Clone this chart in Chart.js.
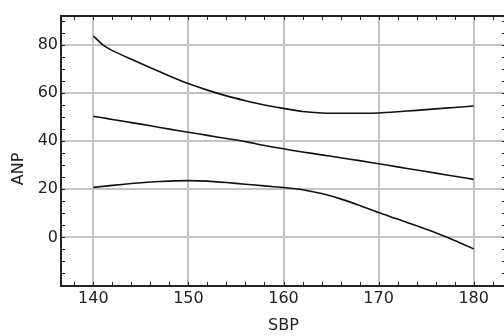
<!DOCTYPE html>
<html>
<head>
<meta charset="utf-8">
<script src="https://cdn.jsdelivr.net/npm/chart.js@4.4.0/dist/chart.umd.min.js"></script>
<style>
  html, body { margin: 0; padding: 0; background: #fff; overflow: hidden; }
  #wrap { width: 512px; height: 336px; }
</style>
</head>
<body>
<div id="wrap"><canvas id="anpChart" width="512" height="336"></canvas></div>
<script>
// SBP-Werte (x) und die drei Kurven: Regression + Konfidenzband
const sbp = [140, 141, 142, 144, 146, 148, 150, 152, 154, 156, 158, 160, 162, 164, 166, 168, 170, 172, 174, 176, 178, 180];
const obereGrenze = [83.7, 80.0, 77.6, 74.0, 70.5, 67.1, 63.9, 61.2, 58.8, 56.8, 55.0, 53.6, 52.3, 51.7, 51.6, 51.6, 51.7, 52.2, 52.8, 53.4, 54.0, 54.6];
const regression = [50.3, 49.7, 49.0, 47.7, 46.4, 45.0, 43.7, 42.4, 41.1, 39.8, 38.2, 36.8, 35.5, 34.3, 33.1, 31.9, 30.6, 29.3, 28.0, 26.7, 25.4, 24.1];
const untereGrenze = [20.8, 21.2, 21.6, 22.4, 23.0, 23.4, 23.6, 23.4, 22.8, 22.1, 21.4, 20.7, 19.8, 18.2, 16.0, 13.3, 10.3, 7.6, 4.8, 1.9, -1.3, -4.8];

const xTicks = [140, 150, 160, 170, 180];
const yTicks = [0, 20, 40, 60, 80];
const xMinor = 2;   // kleine Striche alle 2 Einheiten
const yMinor = 5;   // kleine Striche alle 5 Einheiten

const schrift = { family: 'DejaVu Sans', size: 16 };

function punkte(werte) {
  return sbp.map((x, i) => ({ x, y: werte[i] }));
}

function kurve(werte) {
  return {
    data: punkte(werte),
    borderColor: '#111',
    borderWidth: 1.6,
    pointRadius: 0,
    tension: 0.2,
    fill: false
  };
}

// Rahmen, innenliegende Striche und y-Titel
const rahmenPlugin = {
  id: 'rahmen',
  afterDraw(chart) {
    const { ctx, chartArea: a, scales: { x, y } } = chart;
    ctx.save();
    ctx.strokeStyle = '#222';
    ctx.lineWidth = 1;
    const len = 4;
    ctx.beginPath();
    for (let v = Math.ceil(x.min / xMinor) * xMinor; v <= x.max; v += xMinor) {
      const px = Math.round(x.getPixelForValue(v)) + 0.5;
      ctx.moveTo(px, a.bottom); ctx.lineTo(px, a.bottom - len);
      ctx.moveTo(px, a.top); ctx.lineTo(px, a.top + len);
    }
    for (let v = Math.ceil(y.min / yMinor) * yMinor; v <= y.max; v += yMinor) {
      const py = Math.round(y.getPixelForValue(v)) + 0.5;
      ctx.moveTo(a.left, py); ctx.lineTo(a.left + len, py);
      ctx.moveTo(a.right, py); ctx.lineTo(a.right - len, py);
    }
    ctx.stroke();

    ctx.lineWidth = 2;
    ctx.strokeRect(a.left, a.top, a.right - a.left, a.bottom - a.top);

    ctx.fillStyle = '#222';
    ctx.font = `${schrift.size}px ${schrift.family}`;
    ctx.textAlign = 'center';
    ctx.textBaseline = 'middle';
    ctx.translate(19, 169);
    ctx.rotate(-Math.PI / 2);
    ctx.fillText('ANP', 0, 0);
    ctx.restore();
  }
};

const ctx = document.getElementById('anpChart').getContext('2d');
window.anpChartInstanz = new Chart(ctx, {
  type: 'line',
  data: {
    datasets: [kurve(obereGrenze), kurve(regression), kurve(untereGrenze)]
  },
  options: {
    responsive: false,
    animation: false,
    devicePixelRatio: 1,
    layout: { padding: { top: 16, right: 6, left: 0, bottom: 0 } },
    plugins: {
      legend: { display: false },
      tooltip: { enabled: false }
    },
    scales: {
      x: {
        type: 'linear',
        min: 136.6,
        max: 183.4,
        afterBuildTicks: s => { s.ticks = xTicks.map(v => ({ value: v })); },
        afterFit: s => { s.height = 50; },
        ticks: { color: '#222', font: schrift, padding: 3, maxRotation: 0 },
        grid: { color: '#c4c4c4', lineWidth: 2, drawTicks: false },
        border: { display: false },
        title: { display: true, text: 'SBP', color: '#222', font: schrift, padding: { top: 0, bottom: 1 } }
      },
      y: {
        min: -20.2,
        max: 92,
        afterBuildTicks: s => { s.ticks = yTicks.map(v => ({ value: v })); },
        afterFit: s => { s.width = 61; },
        ticks: { color: '#222', font: schrift, padding: 3 },
        grid: { color: '#c4c4c4', lineWidth: 2, drawTicks: false },
        border: { display: false }
      }
    }
  },
  plugins: [rahmenPlugin]
});
</script>
</body>
</html>
